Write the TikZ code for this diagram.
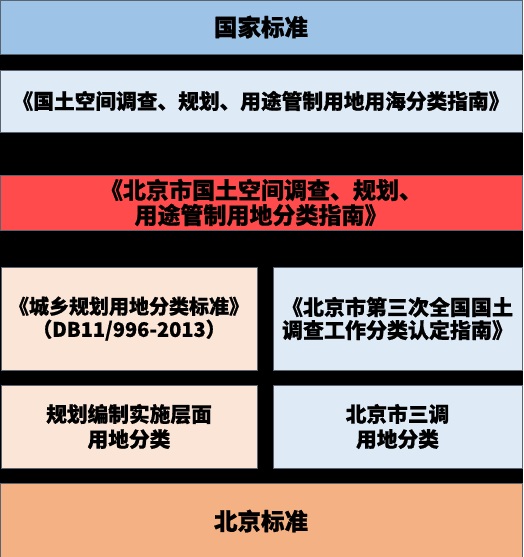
\documentclass[tikz,border=0pt]{standalone}
\usepackage{fontspec}
\setmainfont{Noto Sans CJK SC}[BoldFeatures={FakeBold=0.7}]
\usepackage{tikz}

\definecolor{stdblue}{HTML}{9DC3E6}
\definecolor{paleblue}{HTML}{DEEBF7}
\definecolor{guidered}{HTML}{FF4B4B}
\definecolor{paleorange}{HTML}{FBE5D6}
\definecolor{stdorange}{HTML}{F4B183}
\definecolor{edgegray}{HTML}{5A6470}

\begin{document}
\begin{tikzpicture}[x=1pt, y=1pt,
        layer/.style={draw=edgegray, line width=0.6pt, inner sep=0pt,
            align=center, font=\bfseries\fontsize{20.7}{25}\selectfont},
    ]
        % background
        \fill[black] (0,0) rectangle (523,557);
        \useasboundingbox (0,0) rectangle (523,557);

        % national standard
        \node [layer, fill=stdblue,
            minimum width=522pt,
            minimum height=54pt,
            font=\bfseries\fontsize{23.5}{25}\selectfont,
        ] (guojia) at (261,530){国家标准};

        % national guide
        \node [layer, fill=paleblue,
            minimum width=522pt,
            minimum height=62pt,
        ] (guide) at (261,456){《国土空间调查、规划、用途管制用地用海分类指南》};

        % beijing guide
        \node [layer, fill=guidered,
            minimum width=522pt,
            minimum height=55pt,
            font=\bfseries\fontsize{23}{25}\selectfont,
        ] (bjguide) at (261,354.5){《北京市国土空间调查、规划、\\用途管制用地分类指南》};

        % planning standard
        \node [layer, fill=paleorange,
            minimum width=256pt,
            minimum height=103pt,
            font=\bfseries\fontsize{20}{23}\selectfont,
        ] (plan) at (129,238.5){《城乡规划用地分类标准》\\（DB11/996-2013）};

        % third survey guide
        \node [layer, fill=paleblue,
            minimum width=249pt,
            minimum height=103pt,
            font=\bfseries\fontsize{21}{23}\selectfont,
        ] (survey) at (397.5,238.5){《北京市第三次全国国土\\调查工作分类认定指南》};

        % planning classes
        \node [layer, fill=paleorange,
            minimum width=256pt,
            minimum height=83pt,
        ] (plancls) at (129,130.5){规划编制实施层面\\用地分类};

        % survey classes
        \node [layer, fill=paleblue,
            minimum width=249pt,
            minimum height=83pt,
        ] (surveycls) at (397.5,130.5){北京市三调\\用地分类};

        % beijing standard
        \node [layer, fill=stdorange,
            minimum width=522pt,
            minimum height=76pt,
            font=\bfseries\fontsize{23.5}{25}\selectfont,
        ] (beijing) at (261,36){北京标准};
        \end{tikzpicture}
\end{document}
